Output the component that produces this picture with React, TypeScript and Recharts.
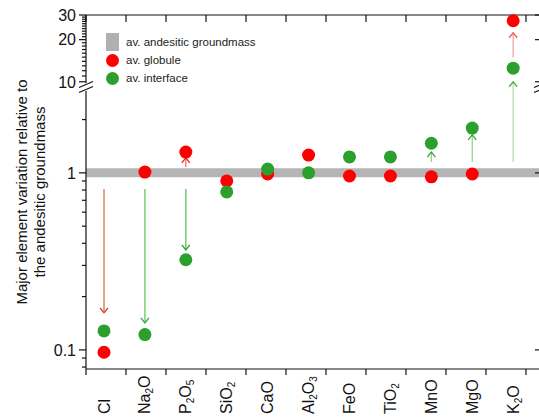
import React from 'react';
import { ComposedChart, Scatter, XAxis, YAxis, ReferenceLine, Legend } from 'recharts';

// oxides / elements along the x axis
const CATEGORIES = ['Cl', 'Na2O', 'P2O5', 'SiO2', 'CaO', 'Al2O3', 'FeO', 'TiO2', 'MnO', 'MgO', 'K2O'];
// ratios relative to the andesitic groundmass (= 1)
const GLOBULE = [0.097, 1.01, 1.31, 0.9, 0.985, 1.26, 0.96, 0.96, 0.95, 0.985, 27.3];
const INTERFACE = [0.128, 0.122, 0.323, 0.78, 1.05, 1.0, 1.23, 1.23, 1.47, 1.79, 12.5];
const GROUNDMASS = 1;

// arrows (category, start value, end value)
const ARROW_CAT = ['Cl', 'Na2O', 'P2O5', 'P2O5', 'MnO', 'MgO', 'K2O', 'K2O'];
const ARROW_FROM = [0.81, 0.81, 0.81, 1.08, 1.15, 1.15, 1.15, 15];
const ARROW_TO = [0.162, 0.142, 0.367, 1.215, 1.31, 1.64, 10, 22.4];
const ARROW_LINE = ['#d5744f', '#62c862', '#58c458', '#f57070', '#8fd58f', '#92d892', '#ade0ad', '#f6a3a3'];
const ARROW_HEAD = ['#c8401e', '#33a833', '#2ca02c', '#ee2020', '#38a838', '#38a838', '#45b045', '#f05a5a'];

// y ticks
const Y_MAJOR = [0.1, 1, 10, 20, 30];
const Y_LABELS = ['0.1', '1', '10', '20', '30'];
const Y_MINOR = [0.08, 0.09, 0.2, 0.3, 0.4, 0.5, 0.6, 0.7, 0.8, 0.9, 2,
  11, 12, 13, 14, 15, 16, 17, 18, 19, 21, 22, 23, 24, 25, 26, 27, 28, 29];

// broken log axis: lower panel 0.078..2.9, upper panel 9.8..30
const LOW = [0.078, 2.9];
const HIGH = [9.8, 30];
const LOW_SPAN = 278;
const GAP = 8;
const HIGH_SPAN = 68;
const U_MAX = LOW_SPAN + GAP + HIGH_SPAN;
const toU = (v: number) =>
  v <= LOW[1]
    ? (LOW_SPAN * Math.log10(v / LOW[0])) / Math.log10(LOW[1] / LOW[0])
    : LOW_SPAN + GAP + (HIGH_SPAN * Math.log10(v / HIGH[0])) / Math.log10(HIGH[1] / HIGH[0]);

// x: categories at 0..10, frame ticks every ~0.98
const X_MIN = -0.44;
const X_MAX = 10.68;
const X_BOUNDS = Array.from({ length: 12 }, (_, k) => X_MIN + k * 0.9775);
const PX_X = 455 / (X_MAX - X_MIN);

const FONT = 'Liberation Sans, Arial, sans-serif';
const INK = '#111';
const RED = '#ff0000';
const GREEN = '#2ca02c';

const globuleData = GLOBULE.map((v, i) => ({ x: i, y: toU(v) }));
const interfaceData = INTERFACE.map((v, i) => ({ x: i, y: toU(v) }));
const arrows = ARROW_CAT.map((c, i) => {
  const x = CATEGORIES.indexOf(c);
  const up = ARROW_TO[i] > ARROW_FROM[i];
  return [
    { x, y: toU(ARROW_FROM[i]), head: false, up },
    { x, y: toU(ARROW_TO[i]), head: true, up },
  ];
});

const majorLabel = (u: number) => {
  const i = Y_MAJOR.findIndex((m) => Math.abs(toU(m) - u) < 1e-6);
  return i >= 0 ? Y_LABELS[i] : null;
};

const LeftTick = ({ x, y, payload }: any) => {
  const label = majorLabel(payload.value);
  const len = label ? 7 : 4;
  return (
    <g>
      <line x1={x - len} x2={x} y1={y} y2={y} stroke={INK} strokeWidth={1.2} />
      {label && (
        <text x={x - 10} y={y} dy="0.36em" textAnchor="end" fontSize={16} fontFamily={FONT} fill={INK}>
          {label}
        </text>
      )}
    </g>
  );
};

const RightTick = ({ x, y }: any) => (
  <line x1={x - 6} x2={x} y1={y} y2={y} stroke={INK} strokeWidth={1.2} />
);

const TopTick = ({ x, y }: any) => (
  <line x1={x} x2={x} y1={y} y2={y + 7} stroke={INK} strokeWidth={1.2} />
);

const NoTick = () => <g />;

const CatTick = ({ x, y, payload }: any) => {
  const name = CATEGORIES[payload.value] || '';
  const parts = name.split(/(\d)/).filter(Boolean);
  let sub = false;
  return (
    <text transform={`translate(${x + 5.5},${y + 39}) rotate(-90)`} fontSize={16} fontFamily={FONT} fill={INK}>
      {parts.map((p, i) => {
        const isNum = /\d/.test(p);
        const dy = isNum ? 3 : sub ? -3 : 0;
        sub = isNum;
        return (
          <tspan key={i} dy={dy} fontSize={isNum ? 10 : 16}>
            {p}
          </tspan>
        );
      })}
    </text>
  );
};

const arrowHead = (color: string) => (props: any) => {
  const { cx, cy, payload } = props;
  if (!payload.head) return <g />;
  const d = payload.up ? 5 : -5;
  return (
    <path
      d={`M${cx - 4},${cy + d} L${cx},${cy} L${cx + 4},${cy + d}`}
      fill="none"
      stroke={color}
      strokeWidth={1.3}
    />
  );
};

const Dot = (color: string) => (props: any) => (
  <circle cx={props.cx} cy={props.cy} r={6.5} fill={color} />
);

const Hidden = () => <g />;

const YTitle = ({ viewBox }: any) => {
  const cy = viewBox.y + viewBox.height / 2;
  return (
    <g fontFamily={FONT} fontSize={15} fill={INK} textAnchor="middle">
      <text transform={`translate(${viewBox.x + 1},${cy}) rotate(-90)`}>Major element variation relative to</text>
      <text transform={`translate(${viewBox.x + 19},${cy}) rotate(-90)`}>the andesitic groundmass</text>
    </g>
  );
};

const LegendBox = () => {
  const row: React.CSSProperties = { display: 'flex', alignItems: 'center', height: 18 };
  const text: React.CSSProperties = { marginLeft: 7, fontSize: 11.5, fontFamily: FONT, color: '#222' };
  return (
    <div>
      <div style={row}>
        <div style={{ width: 13, height: 18, background: '#b0b0b0' }} />
        <span style={text}>av. andesitic groundmass</span>
      </div>
      <div style={row}>
        <div style={{ width: 13, height: 13, borderRadius: '50%', background: RED }} />
        <span style={text}>av. globule</span>
      </div>
      <div style={row}>
        <div style={{ width: 13, height: 13, borderRadius: '50%', background: GREEN }} />
        <span style={text}>av. interface</span>
      </div>
    </div>
  );
};

const seg = (x1: number, y1: number, x2: number, y2: number) => [
  { x: x1, y: y1 },
  { x: x2, y: y2 },
];

export default function App() {
  const gapMid = LOW_SPAN + GAP / 2;
  const sx = 7 / PX_X;
  const breaks = [gapMid - 2.5, gapMid + 2.5];
  return (
    <div style={{ position: 'absolute', left: 0, top: 0, width: 539, height: 418, overflow: 'hidden', background: '#fff' }}>
      <ComposedChart width={560} height={418} margin={{ top: 14, right: 18, bottom: 0, left: 26 }}>
        <XAxis
          xAxisId="bot"
          type="number"
          dataKey="x"
          domain={[X_MIN, X_MAX]}
          ticks={X_BOUNDS}
          interval={0}
          height={6}
          tick={<NoTick />}
          tickSize={6}
          tickMargin={0}
          axisLine={{ stroke: INK, strokeWidth: 1.2 }}
          tickLine={{ stroke: INK, strokeWidth: 1.2 }}
        />
        <XAxis
          xAxisId="lab"
          type="number"
          dataKey="x"
          domain={[X_MIN, X_MAX]}
          ticks={CATEGORIES.map((_, i) => i)}
          interval={0}
          height={43}
          axisLine={false}
          tickLine={false}
          tickSize={0}
          tickMargin={0}
          tick={<CatTick />}
        />
        <XAxis
          xAxisId="top"
          orientation="top"
          type="number"
          dataKey="x"
          domain={[X_MIN, X_MAX]}
          ticks={X_BOUNDS}
          interval={0}
          height={1}
          axisLine={{ stroke: INK, strokeWidth: 1.2 }}
          tickLine={false}
          tickSize={0}
          tickMargin={0}
          tick={<TopTick />}
        />
        <YAxis
          yAxisId="l"
          type="number"
          dataKey="y"
          domain={[0, U_MAX]}
          ticks={[...Y_MAJOR, ...Y_MINOR].map(toU)}
          interval={0}
          width={60}
          axisLine={false}
          tickLine={false}
          tickSize={0}
          tickMargin={0}
          tick={<LeftTick />}
          label={{ content: (p: any) => <YTitle viewBox={p.viewBox} /> }}
        />
        <YAxis
          yAxisId="r"
          orientation="right"
          type="number"
          dataKey="y"
          domain={[0, U_MAX]}
          ticks={Y_MAJOR.map(toU)}
          interval={0}
          width={1}
          axisLine={false}
          tickLine={false}
          tickSize={0}
          tickMargin={0}
          tick={<RightTick />}
        />

        <ReferenceLine
          xAxisId="bot"
          yAxisId="l"
          y={toU(GROUNDMASS)}
          stroke="#b5b5b5"
          strokeWidth={9}
        />

        {/* broken left / right axis lines */}
        {[X_MIN, X_MAX].map((ax) => (
          <React.Fragment key={ax}>
            <ReferenceLine xAxisId="bot" yAxisId="l" ifOverflow="visible" segment={seg(ax, 0, ax, LOW_SPAN)} stroke={INK} strokeWidth={1.2} />
            <ReferenceLine xAxisId="bot" yAxisId="l" ifOverflow="visible" segment={seg(ax, LOW_SPAN + GAP, ax, U_MAX)} stroke={INK} strokeWidth={1.2} />
            {breaks.map((b) => (
              <ReferenceLine
                key={b}
                xAxisId="bot"
                yAxisId="l"
                ifOverflow="visible"
                segment={seg(ax - sx, b - 3, ax + sx, b + 3)}
                stroke={INK}
                strokeWidth={1.2}
              />
            ))}
          </React.Fragment>
        ))}

        {arrows.map((d, i) => (
          <Scatter
            key={i}
            xAxisId="bot"
            yAxisId="l"
            data={d}
            line={{ stroke: ARROW_LINE[i], strokeWidth: 1.3 }}
            shape={arrowHead(ARROW_HEAD[i])}
            isAnimationActive={false}
          />
        ))}

        <Scatter xAxisId="bot" yAxisId="l" data={globuleData} fill={RED} shape={Dot(RED)} isAnimationActive={false} />
        <Scatter xAxisId="bot" yAxisId="l" data={interfaceData} fill={GREEN} shape={Dot(GREEN)} isAnimationActive={false} />
        {/* invisible copies so the extra axes get registered */}
        <Scatter xAxisId="lab" yAxisId="r" data={globuleData} shape={Hidden} isAnimationActive={false} />
        <Scatter xAxisId="top" yAxisId="r" data={globuleData} shape={Hidden} isAnimationActive={false} />

        <Legend
          layout="vertical"
          align="center"
          verticalAlign="middle"
          content={<LegendBox />}
          wrapperStyle={{ left: 106, top: 33, width: 200, height: 56 }}
        />
      </ComposedChart>
    </div>
  );
}
